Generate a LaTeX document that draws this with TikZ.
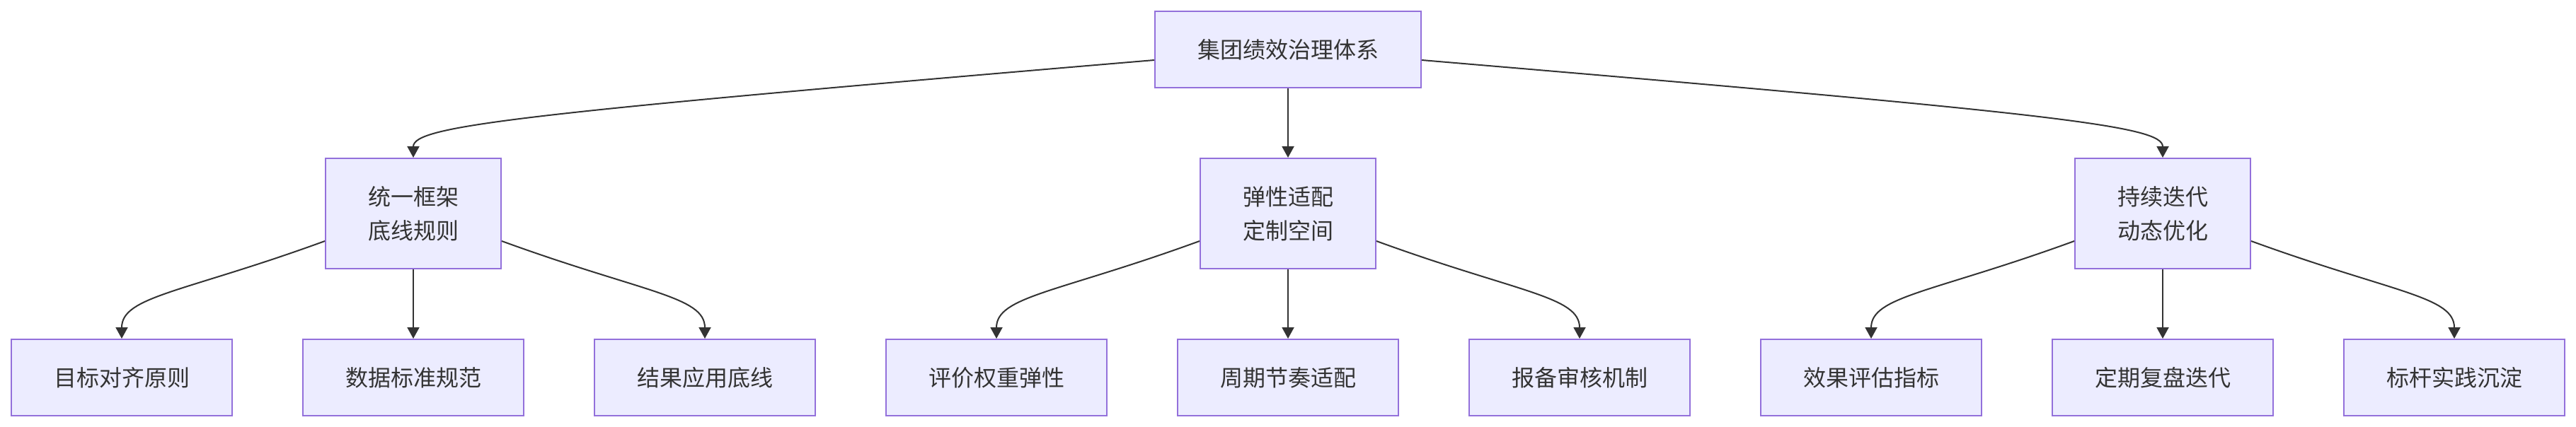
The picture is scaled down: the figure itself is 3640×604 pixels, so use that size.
\documentclass[tikz,border=0pt]{standalone}
\usepackage{fontspec}
\setmainfont{Noto Sans CJK SC}
\usetikzlibrary{arrows.meta}
\definecolor{boxfill}{HTML}{ECECFF}
\definecolor{boxline}{HTML}{9370DB}
\definecolor{ink}{HTML}{333333}
\tikzset{
  basebox/.style={draw=boxline, fill=boxfill, line width=2pt, inner sep=0pt,
    text=ink, align=center, font=\fontsize{32pt}{48pt}\selectfont},
  rootbox/.style={basebox, minimum width=376pt, minimum height=108pt},
  midbox/.style={basebox, minimum width=248pt, minimum height=156pt},
  leafbox/.style={basebox, minimum width=312pt, minimum height=108pt},
  link/.style={draw=ink, line width=2pt, -{Triangle[length=16pt,width=17pt]}},
}
\begin{document}
\begin{tikzpicture}[x=1pt,y=-1pt]
\fill[white] (0,0) rectangle (3640,604);
\useasboundingbox (0,0) rectangle (3640,604);

\node[rootbox] (root) at (1820,70) {集团绩效治理体系};

\node[midbox] (m1) at (584,302) {统一框架\\底线规则};
\node[midbox] (m2) at (1820,302) {弹性适配\\定制空间};
\node[midbox] (m3) at (3056,302) {持续迭代\\动态优化};

\node[leafbox] (l1) at (172,534) {目标对齐原则};
\node[leafbox] (l2) at (584,534) {数据标准规范};
\node[leafbox] (l3) at (996,534) {结果应用底线};
\node[leafbox] (l4) at (1408,534) {评价权重弹性};
\node[leafbox] (l5) at (1820,534) {周期节奏适配};
\node[leafbox] (l6) at (2232,534) {报备审核机制};
\node[leafbox] (l7) at (2644,534) {效果评估指标};
\node[leafbox] (l8) at (3056,534) {定期复盘迭代};
\node[leafbox] (l9) at (3468,534) {标杆实践沉淀};

\draw[link] ([yshift=-15pt]root.west) .. controls +(-900,76) and +(0,-45) .. (m1.north);
\draw[link] (root.south) -- (m2.north);
\draw[link] ([yshift=-15pt]root.east) .. controls +(900,76) and +(0,-45) .. (m3.north);

\foreach \m/\a/\b/\c in {m1/l1/l2/l3, m2/l4/l5/l6, m3/l7/l8/l9} {
  \draw[link] ([yshift=-39pt]\m.west) .. controls +(-200,73) and +(0,-60) .. (\a.north);
  \draw[link] (\m.south) -- (\b.north);
  \draw[link] ([yshift=-39pt]\m.east) .. controls +(200,73) and +(0,-60) .. (\c.north);
}
\end{tikzpicture}
\end{document}
